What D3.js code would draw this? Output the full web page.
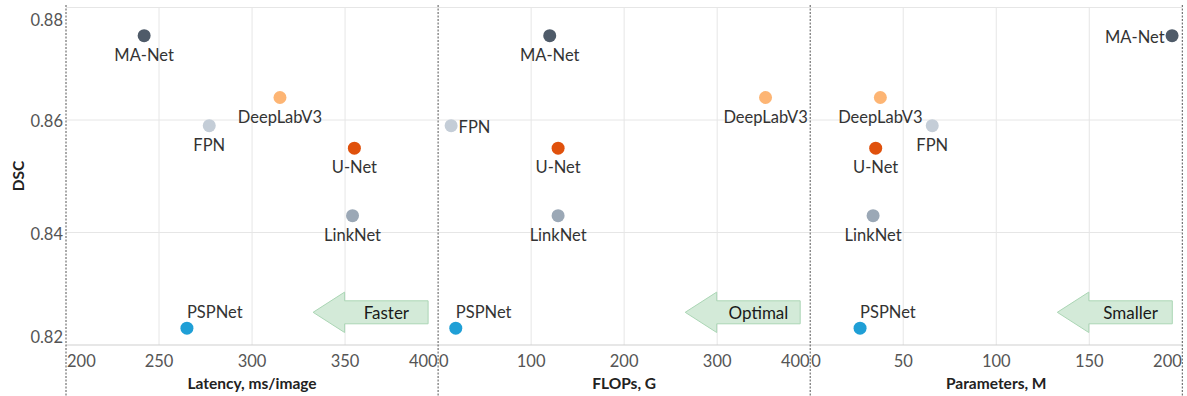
<!DOCTYPE html>
<html>
<head>
<meta charset="utf-8">
<script src="https://cdn.jsdelivr.net/npm/d3@7"></script>
<style>
  html, body { margin: 0; padding: 0; background: #fff; }
  svg { display: block; font-family: Lato, "Open Sans", sans-serif; }
</style>
</head>
<body>
<svg id="chart" width="1187" height="396"></svg>
<script>
// Models and their colours
const models = ["MA-Net", "FPN", "DeepLabV3", "U-Net", "LinkNet", "PSPNet"];
const colors = ["#4f5b69", "#c4cdd7", "#fdb574", "#e0510c", "#9ba8b6", "#1f9fd6"];

// Dice score per model
const dsc = [0.875, 0.859, 0.864, 0.855, 0.843, 0.823];

// Cost metrics per model
const latency = [242, 277, 315, 355, 354, 265];   // ms/image
const flops = [120, 14, 352, 129, 129, 19];       // G
const params = [194.5, 65.6, 37.7, 35.2, 33.8, 26.8]; // M

// Axis settings
const yTicks = [0.82, 0.84, 0.86, 0.88];
const latencyTicks = [200, 250, 300, 350, 400];
const flopsTicks = [0, 100, 200, 300, 400];
const paramsTicks = [0, 50, 100, 150, 200];

const panelTitles = ["Latency, ms/image", "FLOPs, G", "Parameters, M"];
const arrowTexts = ["Faster", "Optimal", "Smaller"];

// Where each label sits relative to its dot, per panel
const labelPlacement = [
  ["below", "below", "below", "below", "below", "above"],
  ["below", "right", "below", "below", "below", "above"],
  ["left", "below", "below", "below", "below", "above"]
];

const panels = [
  { values: latency, domain: [200, 400], ticks: latencyTicks },
  { values: flops, domain: [0, 400], ticks: flopsTicks },
  { values: params, domain: [0, 200], ticks: paramsTicks }
];

const svg = d3.select("#chart");
const plotLeft = 66, plotRight = 1182.3;
const plotTop = 7.5, plotBottom = 345;
const panelW = (plotRight - plotLeft) / 3;

const y = d3.scaleLinear().domain([0.82, 0.88]).range([plotBottom, plotTop]);

// Horizontal gridlines across all panels
svg.append("g").selectAll("line")
  .data(yTicks.filter(t => t > 0.82))
  .join("line")
  .attr("x1", plotLeft).attr("x2", plotRight)
  .attr("y1", d => y(d)).attr("y2", d => y(d))
  .attr("stroke", "#e6e6e6").attr("stroke-width", 1);

// Y tick labels
svg.append("g").selectAll("text")
  .data(yTicks)
  .join("text")
  .attr("x", 63)
  .attr("y", d => Math.min(337, Math.max(20, y(d) + 1)))
  .attr("text-anchor", "end")
  .attr("dominant-baseline", "central")
  .attr("fill", "#555")
  .attr("font-size", 16.5)
  .text(d => d.toFixed(2));

// Y axis title
svg.append("text")
  .attr("transform", `translate(18,176) rotate(-90)`)
  .attr("text-anchor", "middle")
  .attr("dominant-baseline", "central")
  .attr("font-weight", 700)
  .attr("font-size", 15.5)
  .attr("fill", "#222")
  .text("DSC");

panels.forEach((p, i) => {
  const x0 = plotLeft + i * panelW, x1 = x0 + panelW;
  const x = d3.scaleLinear().domain(p.domain).range([x0, x1]);
  const g = svg.append("g");

  // Vertical gridlines
  g.selectAll("line.vgrid")
    .data(p.ticks.slice(1, -1))
    .join("line")
    .attr("class", "vgrid")
    .attr("x1", d => x(d)).attr("x2", d => x(d))
    .attr("y1", plotTop).attr("y2", plotBottom)
    .attr("stroke", "#e6e6e6");

  // Baseline
  g.append("line")
    .attr("x1", x0).attr("x2", x1)
    .attr("y1", plotBottom).attr("y2", plotBottom)
    .attr("stroke", "#cfcfcf");

  // X tick labels; the end labels are kept inside the panel
  g.selectAll("text.tick")
    .data(p.ticks)
    .join("text")
    .attr("class", "tick")
    .attr("x", (d, k) => k === 0 ? x(d) + 1 : k === p.ticks.length - 1 ? x(d) - 0.5 : x(d))
    .attr("y", 361)
    .attr("text-anchor", (d, k) => k === 0 ? "start" : k === p.ticks.length - 1 ? "end" : "middle")
    .attr("dominant-baseline", "central")
    .attr("fill", "#555")
    .attr("font-size", 16.5)
    .text(d => d);

  // Panel axis title
  g.append("text")
    .attr("x", (x0 + x1) / 2)
    .attr("y", 383)
    .attr("text-anchor", "middle")
    .attr("dominant-baseline", "central")
    .attr("font-weight", 700)
    .attr("font-size", 15.5)
    .attr("fill", "#222")
    .text(panelTitles[i]);

  // Direction arrow with caption
  const ar = x1 - 10, al = ar - 115, head = al + 31.5, ay = 312.3;
  const arrowPath = d3.path();
  arrowPath.moveTo(al, ay);
  arrowPath.lineTo(head, ay - 20.2);
  arrowPath.lineTo(head, ay - 11.5);
  arrowPath.lineTo(ar, ay - 11.5);
  arrowPath.lineTo(ar, ay + 11.5);
  arrowPath.lineTo(head, ay + 11.5);
  arrowPath.lineTo(head, ay + 20.2);
  arrowPath.closePath();
  g.append("path")
    .attr("d", arrowPath.toString())
    .attr("fill", "#d3ead8")
    .attr("stroke", "#abd6b5")
    .attr("stroke-width", 1);
  g.append("text")
    .attr("x", (head + ar) / 2)
    .attr("y", ay)
    .attr("text-anchor", "middle")
    .attr("dominant-baseline", "central")
    .attr("font-size", 17)
    .attr("fill", "#1a1a1a")
    .text(arrowTexts[i]);

  // Points
  g.selectAll("circle")
    .data(models)
    .join("circle")
    .attr("cx", (d, k) => x(p.values[k]))
    .attr("cy", (d, k) => y(dsc[k]))
    .attr("r", 6.5)
    .attr("fill", (d, k) => colors[k]);

  // Point labels
  g.selectAll("text.lbl")
    .data(models)
    .join("text")
    .attr("class", "lbl")
    .each(function (d, k) {
      const px = x(p.values[k]), py = y(dsc[k]);
      const pl = labelPlacement[i][k];
      const t = d3.select(this);
      if (pl === "below") t.attr("x", px).attr("y", py + 19).attr("text-anchor", "middle");
      else if (pl === "above") t.attr("x", px).attr("y", py - 16.5).attr("text-anchor", "start");
      else if (pl === "right") t.attr("x", px + 7.5).attr("y", py + 1.5).attr("text-anchor", "start");
      else t.attr("x", px - 7.5).attr("y", py + 1).attr("text-anchor", "end");
    })
    .attr("dominant-baseline", "central")
    .attr("font-size", 16.5)
    .attr("fill", "#333")
    .text(d => d);
});

// Dotted panel separators
svg.append("g").selectAll("line")
  .data([0, 1, 2, 3])
  .join("line")
  .attr("x1", k => plotLeft + k * panelW).attr("x2", k => plotLeft + k * panelW)
  .attr("y1", 5).attr("y2", 396)
  .attr("stroke", "#555")
  .attr("stroke-width", 1)
  .attr("stroke-dasharray", "2,1.5");
</script>
</body>
</html>
